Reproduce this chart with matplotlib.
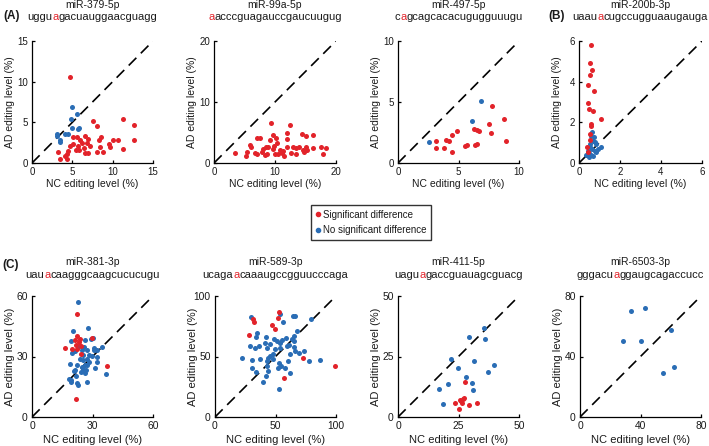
import matplotlib
matplotlib.use("Agg")
import matplotlib.pyplot as plt
from matplotlib.lines import Line2D

plt.rcParams['font.family'] = ['Liberation Sans', 'DejaVu Sans']

RED = '#e2232a'
BLUE = '#2a6db5'
TXT = '#1a1a1a'

# ---------------- data ----------------
names = ["miR-379-5p", "miR-99a-5p", "miR-497-5p", "miR-200b-3p",
         "miR-381-3p", "miR-589-3p", "miR-411-5p", "miR-6503-3p"]
seqs = ["ugguagacuauggaacguagg", "aacccguagauccgaucuugug", "cagcagcacacugugguuugu",
        "uaauacugccugguaaugauga", "uauacaagggcaagcucucugu", "ucagaacaaaugccgguucccaga",
        "uaguagaccguauagcguacg", "gggacuaggaugcagaccucc"]
edit_idx = [4, 0, 1, 4, 3, 5, 4, 6]
axis_max = [15, 20, 10, 6, 60, 100, 50, 80]
ticks = [[0, 5, 10, 15], [0, 10, 20], [0, 5, 10], [0, 2, 4, 6],
         [0, 30, 60], [0, 50, 100], [0, 25, 50], [0, 40, 80]]

# miR-379-5p
a1_blue_x = [4.93, 4.85, 5.59, 5.80, 5.71, 4.93, 3.12, 3.04, 3.49, 3.53, 4.11, 4.52]
a1_blue_y = [6.89, 5.42, 5.99, 4.28, 4.16, 4.36, 3.51, 3.26, 2.77, 2.57, 3.55, 3.55]
a1_red_x = [4.77, 7.5, 8.0, 11.3, 12.7, 12.7, 11.3, 10.6, 10.1, 9.7, 9.6, 8.6, 8.3, 8.4, 8.8,
            8.0, 6.6, 7.0, 6.8, 7.2, 6.4, 6.6, 6.0, 5.7, 5.5, 5.1, 4.7, 4.5, 4.3, 4.1, 3.5,
            3.2, 4.3, 5.8, 6.2, 7.0, 5.6, 5.1]
a1_red_y = [10.6, 5.2, 4.6, 5.4, 4.7, 2.85, 1.7, 2.85, 2.8, 2.0, 2.3, 3.2, 2.85, 1.95, 1.35,
            1.3, 3.3, 2.9, 2.45, 2.05, 1.85, 1.2, 2.85, 2.15, 1.6, 2.35, 2.15, 1.45, 1.15, 0.8, 0.5,
            1.4, 0.5, 1.6, 2.45, 1.2, 3.25, 3.25]

# miR-99a-5p
a2_blue_x = []
a2_blue_y = []
a2_red_x = [3.4, 5.3, 5.4, 5.9, 6.1, 7.0, 7.5, 7.1, 7.8, 8.1, 8.5, 8.8, 8.7, 9.3, 9.6, 9.2,
            9.6, 10.0, 10.2, 10.4, 10.8, 11.1, 11.5, 11.9, 12.0, 12.4, 11.9, 12.7, 13.0, 13.4,
            14.0, 14.4, 14.7, 15.1, 15.1, 15.2, 16.3, 16.3, 17.6, 17.9, 18.4, 6.7, 8.3, 9.8,
            10.5, 11.3, 13.5, 14.6]
a2_red_y = [1.6, 1.2, 1.75, 3.0, 2.6, 4.1, 4.05, 1.5, 1.75, 2.3, 2.6, 2.7, 1.4, 6.6, 4.6, 3.7,
            2.3, 1.4, 4.05, 3.2, 2.2, 1.65, 1.2, 2.6, 5.0, 6.3, 3.9, 1.6, 2.7, 1.5,
            2.6, 4.8, 1.75, 4.4, 2.6, 2.1, 2.5, 4.6, 2.7, 1.4, 2.5, 1.6, 1.3, 2.8,
            1.4, 2.0, 2.4, 2.1]

# miR-497-5p
a3_blue_x = [2.55, 6.1, 6.88]
a3_blue_y = [1.73, 3.42, 5.12]
a3_red_x = [3.15, 3.1, 3.97, 4.19, 3.8, 4.49, 4.85, 4.44, 5.53, 5.73, 6.27, 6.55, 6.71, 6.38,
            6.55, 7.53, 7.7, 7.8, 8.74, 8.96]
a3_red_y = [1.81, 1.2, 1.92, 1.81, 1.2, 2.33, 2.66, 0.88, 1.37, 1.45, 2.82, 2.71, 2.66, 1.45,
            1.53, 3.2, 2.44, 4.71, 3.62, 1.78]

# miR-200b-3p
b_blue_x = [0.6, 0.69, 0.77, 0.85, 1.05, 0.52, 0.65, 0.77, 0.36, 0.49, 0.6, 0.69, 0.85, 0.56,
            0.44, 0.72, 0.93, 0.62, 0.49]
b_blue_y = [1.35, 1.1, 1.02, 0.94, 0.77, 0.77, 0.69, 0.61, 0.41, 0.48, 0.41, 0.36, 0.53, 0.94,
            0.61, 1.30, 0.69, 1.51, 0.31]
b_red_x = [0.57, 0.52, 0.65, 0.52, 0.44, 0.74, 0.44, 0.47, 0.69, 1.09, 0.57, 0.6, 0.52, 0.52,
           0.39, 0.44]
b_red_y = [5.79, 4.93, 4.55, 4.31, 3.82, 3.52, 2.96, 2.66, 2.58, 2.17, 1.92, 1.81, 1.43, 1.13,
           0.77, 0.53]

# miR-381-3p
c1_blue_x = [23.0, 27.6, 20.2, 19.2, 23.5, 26.3, 29.2, 30.1, 30.9, 30.8, 32.4, 34.5, 25.8, 27.1,
             25.0, 19.7, 21.4, 28.5, 29.6, 32.1, 23.8, 25.5, 27.1, 28.5, 32.1, 18.9, 22.2, 24.7,
             26.3, 27.5, 25.5, 26.8, 24.3, 26.3, 31.3, 36.7, 21.5, 18.4, 19.2, 19.4, 21.9, 22.2,
             22.9, 27.1, 20.9, 25.5]
c1_blue_y = [57.0, 44.3, 42.6, 37.5, 35.0, 38.3, 38.8, 39.3, 34.4, 33.0, 33.0, 34.5, 34.7, 33.4,
             33.1, 31.7, 32.6, 30.9, 30.1, 29.8, 28.9, 28.1, 28.9, 27.3, 27.3, 26.1, 25.6, 24.8,
             25.6, 25.6, 24.0, 23.1, 22.3, 21.8, 24.5, 21.2, 23.5, 19.0, 17.4, 18.2, 20.2, 16.9,
             16.0, 17.4, 22.8, 30.6]
c1_red_x = [22.5, 22.0, 37.2, 16.4, 19.7, 21.4, 22.2, 23.5, 24.3, 21.9, 22.5, 24.4, 23.9, 29.8]
c1_red_y = [51.1, 9.1, 25.3, 34.4, 33.7, 38.0, 40.0, 37.2, 35.2, 35.5, 33.9, 31.4, 38.7, 39.2]

# miR-589-3p
c2_blue_x = [29.8, 53.9, 56.6, 64.4, 66.3, 79.3, 67.7, 34.5, 33.7, 42.3, 48.9, 51.1, 55.2, 58.8,
             63.5, 64.9, 29.0, 33.1, 42.8, 49.7, 53.9, 59.4, 64.9, 66.3, 69.1, 62.2, 48.3, 45.6,
             44.2, 42.8, 48.3, 53.3, 60.2, 54.7, 52.2, 57.7, 61.9, 77.3, 73.8, 87.0, 22.1, 30.4,
             37.3, 30.4, 33.7, 42.8, 43.4, 42.3, 39.5, 52.5, 60.8, 64.9, 36.5, 41.2, 45.6, 53.9]
c2_blue_y = [82.9, 84.8, 78.8, 83.5, 83.5, 81.3, 71.1, 69.7, 66.1, 66.1, 64.2, 62.8, 63.4, 65.0,
             64.2, 66.9, 58.7, 57.3, 56.7, 55.9, 56.7, 58.7, 57.9, 54.5, 53.2, 52.3, 51.8, 50.4,
             49.0, 46.3, 47.7, 44.9, 46.3, 42.1, 40.2, 40.8, 36.6, 46.3, 54.5, 46.8, 49.0, 46.8,
             47.7, 40.2, 37.5, 42.1, 38.0, 33.9, 28.9, 23.4, 59.5, 62.8, 58.7, 61.4, 60.1, 61.4]
c2_red_x = [28.5, 31.8, 32.3, 47.0, 49.7, 51.7, 53.3, 72.4, 57.3, 99.4]
c2_red_y = [67.5, 80.7, 78.8, 76.0, 72.5, 82.1, 86.8, 49.0, 32.0, 42.1]

# miR-411-5p
c3_blue_x = [35.6, 35.9, 29.4, 22.0, 24.7, 31.2, 39.7, 37.1, 28.2, 20.5, 17.0, 30.5, 30.9, 18.5]
c3_blue_y = [36.7, 32.2, 32.9, 24.0, 20.1, 23.1, 21.3, 18.8, 16.7, 13.6, 11.4, 13.9, 11.0, 5.3]
c3_red_x = [27.5, 23.6, 25.0, 26.1, 26.4, 27.0, 27.3, 29.4, 32.8, 25.7]
c3_red_y = [14.6, 5.8, 3.1, 6.5, 5.6, 7.6, 7.9, 5.1, 5.6, 7.1]

# miR-6503-3p
c4_blue_x = [33.5, 43.0, 28.6, 40.1, 59.9, 54.6, 62.3]
c4_blue_y = [69.8, 72.0, 50.2, 50.2, 57.3, 29.3, 33.3]
c4_red_x = []
c4_red_y = []

blue_x = [a1_blue_x, a2_blue_x, a3_blue_x, b_blue_x, c1_blue_x, c2_blue_x, c3_blue_x, c4_blue_x]
blue_y = [a1_blue_y, a2_blue_y, a3_blue_y, b_blue_y, c1_blue_y, c2_blue_y, c3_blue_y, c4_blue_y]
red_x = [a1_red_x, a2_red_x, a3_red_x, b_red_x, c1_red_x, c2_red_x, c3_red_x, c4_red_x]
red_y = [a1_red_y, a2_red_y, a3_red_y, b_red_y, c1_red_y, c2_red_y, c3_red_y, c4_red_y]

legend_labels = ["Significant difference", "No significant difference"]
panel_labels = ["(A)", "(B)", "(C)"]

# ---------------- layout ----------------
W, H = 709, 446
DPI = 100
fig = plt.figure(figsize=(W / DPI, H / DPI), dpi=DPI)

# axes boxes in pixels: left, top, right, bottom
boxes = [(32, 41, 153, 163), (214, 41, 336, 163), (398, 41, 519, 163), (579, 41, 702, 163),
         (32, 296, 153, 417), (215, 296, 336, 417), (398, 296, 519, 417), (580, 296, 701, 417)]

renderer = fig.canvas.get_renderer()


def ink_width(s, fs):
    t = fig.text(0, 0, s, fontsize=fs)
    w = t.get_window_extent(renderer).width
    t.remove()
    return w


def adv_width(s, fs):
    # advance width of s (bracketing glyphs cancel the ink bearings)
    return ink_width("H" + s + "H", fs) - ink_width("HH", fs)


def colored_seq(xc_px, yc_px, seq, idx, fs):
    parts = [(0, seq[:idx], TXT), (idx, seq[idx], RED), (idx + 1, seq[idx + 1:], TXT)]
    parts = [p for p in parts if p[1]]
    total = adv_width(seq, fs)
    origin = xc_px - total / 2
    for start, s, c in parts:
        pen = adv_width(seq[:start], fs) if start > 0 else 0.0
        fig.text((origin + pen) / W, 1 - yc_px / H, s, fontsize=fs, color=c,
                 ha='left', va='center')


for i in range(8):
    l, t, r, b = boxes[i]
    row2 = i >= 4
    ax = fig.add_axes([l / W, 1 - b / H, (r - l) / W, (b - t) / H])
    m = axis_max[i]
    ax.plot([0, m], [0, m], color='black', lw=1.2, linestyle=(0, (6.5, 3.8)), zorder=1)
    if blue_x[i]:
        ax.scatter(blue_x[i], blue_y[i], s=13, color=BLUE, linewidths=0, zorder=2, clip_on=False)
    if red_x[i]:
        ax.scatter(red_x[i], red_y[i], s=13, color=RED, linewidths=0, zorder=3, clip_on=False)
    ax.set_xlim(0, m)
    ax.set_ylim(0, m)
    ax.set_xticks(ticks[i])
    ax.set_yticks(ticks[i])
    for sp in ['top', 'right']:
        ax.spines[sp].set_visible(False)
    for sp in ['left', 'bottom']:
        ax.spines[sp].set_linewidth(0.9)
        ax.spines[sp].set_color('black')
    ax.tick_params(direction='in', length=2.5, width=0.9, labelsize=7.4 if row2 else 7.0,
                   pad=3, labelcolor=TXT)
    lfs = 8.0 if row2 else 7.5
    ax.set_xlabel("NC editing level (%)", fontsize=lfs, color=TXT)
    ax.set_ylabel("AD editing level (%)", fontsize=lfs, color=TXT)
    hpx = b - t
    wpx = r - l
    ax.xaxis.set_label_coords(0.5, -(18 if row2 else 16) / hpx)
    ax.yaxis.set_label_coords(-17 / wpx, 0.5)

    xc = (l + r) / 2
    ty = 5.5 if not row2 else 262
    sy = 16.5 if not row2 else 274.5
    fig.text(xc / W, 1 - ty / H, names[i], fontsize=7.5, color=TXT, ha='center', va='center')
    colored_seq(xc, sy, seqs[i], edit_idx[i], 8.0)

fig.text(3 / W, 1 - 16 / H, panel_labels[0], fontsize=8.5, fontweight='bold', color=TXT, va='center')
fig.text(548 / W, 1 - 16 / H, panel_labels[1], fontsize=8.5, fontweight='bold', color=TXT, va='center')
fig.text(2 / W, 1 - 265 / H, panel_labels[2], fontsize=8.5, fontweight='bold', color=TXT, va='center')

handles = [Line2D([], [], marker='o', linestyle='', color=RED, markersize=3.0),
           Line2D([], [], marker='o', linestyle='', color=BLUE, markersize=3.0)]
leg = fig.legend(handles, legend_labels, loc='center', bbox_to_anchor=(371 / W, 1 - 222.5 / H),
                 fontsize=7.0, frameon=True, fancybox=False, edgecolor='black',
                 handlelength=0.4, handletextpad=0.3, borderpad=0.5, labelspacing=0.6,
                 borderaxespad=0)
leg.get_frame().set_linewidth(1.0)
for txt in leg.get_texts():
    txt.set_color(TXT)

fig.savefig("out.png", dpi=DPI)
